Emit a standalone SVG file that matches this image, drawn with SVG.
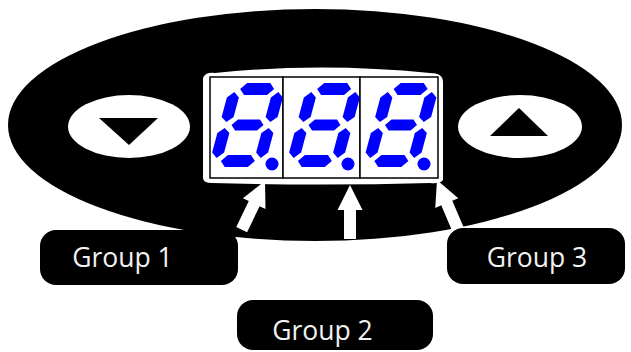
<svg xmlns="http://www.w3.org/2000/svg" xmlns:xlink="http://www.w3.org/1999/xlink" width="631" height="352" viewBox="0 0 631 352">
<style>
.seg{fill:#0000ff}
.lbl{fill:#000}
.txt{fill:#f2f2f2;font-family:"Open Sans","Noto Sans","DejaVu Sans",sans-serif;font-size:26.5px;text-anchor:middle}
.arr{fill:#fff}
.cell{fill:#fff;stroke:#000;stroke-width:1.5}
</style>
<defs>
<g id="digit">
<polygon class="seg" points="-17,-36 -11.5,-42 11.5,-42 17,-36 11.5,-30 -11.5,-30"/>
<polygon class="seg" points="-16,0 -11,-5.5 11,-5.5 16,0 11,5.5 -11,5.5"/>
<polygon class="seg" points="-17,36 -11.5,30 11.5,30 17,36 11.5,42 -11.5,42"/>
<polygon class="seg" points="-22,-33 -16,-27.5 -16,-8 -22,-3 -28,-8 -28,-27.5"/>
<polygon class="seg" points="22,-33 28,-27.5 28,-8 22,-3 16,-8 16,-27.5"/>
<polygon class="seg" points="-22,3 -16,8 -16,27.5 -22,33 -28,27.5 -28,8"/>
<polygon class="seg" points="22,3 28,8 28,27.5 22,33 16,27.5 16,8"/>
</g>
<path id="arrow" d="M0,0 L12.5,25 L6,25 L6,54 L-6,54 L-6,25 L-12.5,25 Z"/>
</defs>
<rect width="631" height="352" fill="#fff"/>
<g id="panel">
<ellipse cx="315" cy="125" rx="307" ry="116" fill="#000"/>
</g>
<g id="button-down">
<ellipse cx="129" cy="126.5" rx="61" ry="31.5" fill="#fff"/>
<polygon points="99,118 158,118 129,145" fill="#000"/>
</g>
<g id="button-up">
<ellipse cx="520" cy="126.5" rx="62" ry="31.5" fill="#fff"/>
<polygon points="519,108 548,136 490,136" fill="#000"/>
</g>
<g id="display">
<path d="M203,78 Q205,72 215,73 Q320,62 430,73 Q443,73 443,82 L443,180 Q440,184 430,183 Q320,186 212,183 Q203,183 203,178 Z" fill="#fff"/>
<rect class="cell" x="210" y="77" width="73" height="101"/>
<rect class="cell" x="283" y="77" width="77" height="101"/>
<rect class="cell" x="360" y="77" width="78" height="101"/>
<use xlink:href="#digit" transform="translate(247.5,125) skewX(-15)"/>
<use xlink:href="#digit" transform="translate(324.5,125) skewX(-15)"/>
<use xlink:href="#digit" transform="translate(401,125) skewX(-15)"/>
<circle class="seg" cx="272" cy="164" r="6.5"/>
<circle class="seg" cx="348" cy="164" r="6.5"/>
<circle class="seg" cx="424" cy="164" r="6.5"/>
</g>
<g id="connectors">
<use xlink:href="#arrow" class="arr" transform="translate(265,181) rotate(25.6)"/>
<use xlink:href="#arrow" class="arr" transform="translate(350,185)"/>
<use xlink:href="#arrow" class="arr" transform="translate(437,180) rotate(-23)"/>
</g>
<g id="group1">
<rect class="lbl" x="40" y="230" width="198" height="55" rx="16"/>
<text class="txt" x="122.5" y="267">Group 1</text>
</g>
<g id="group3">
<rect class="lbl" x="447" y="228" width="178" height="56" rx="16"/>
<text class="txt" x="537" y="267">Group 3</text>
</g>
<g id="group2">
<rect class="lbl" x="237" y="300" width="196" height="50" rx="16"/>
<text class="txt" x="322.5" y="340">Group 2</text>
</g>
</svg>
